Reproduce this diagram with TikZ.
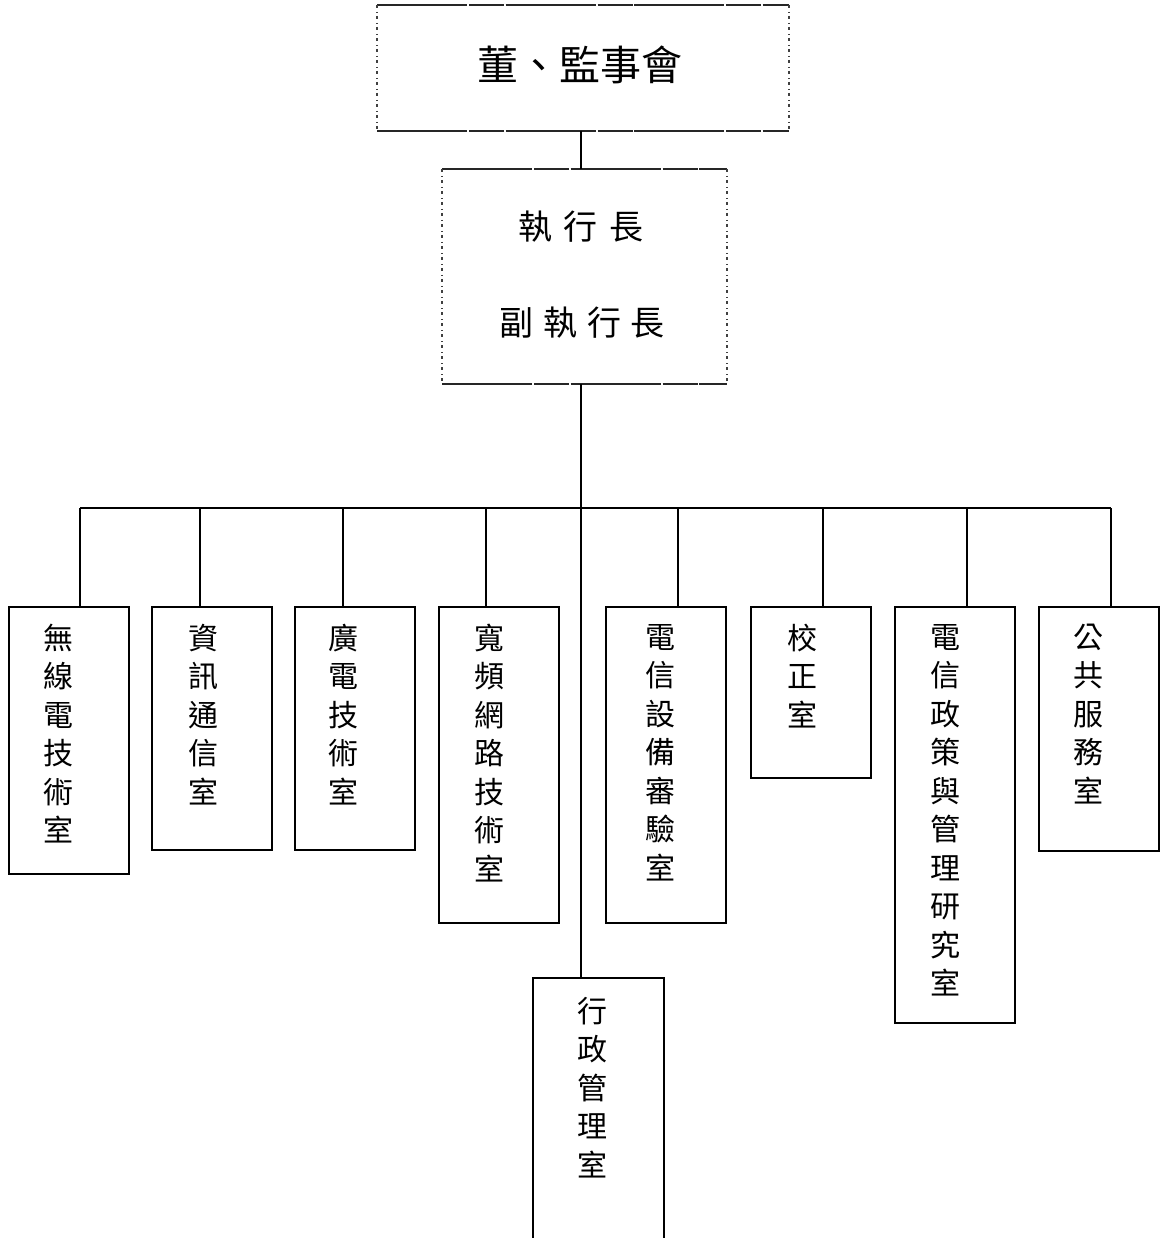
\documentclass[tikz,border=0pt]{standalone}
\usepackage{fontspec}
\newfontfamily\cjk{Noto Sans CJK TC}
\begin{document}
\begin{tikzpicture}[x=1pt,y=-1pt,line width=2pt,
  unitbox/.style={draw, minimum width=120pt, anchor=north west, inner sep=0pt},
  vtext/.style={font=\cjk\fontsize{30}{38.5}\selectfont, align=center, anchor=north, inner sep=0pt},
  conn/.style={line width=1.8pt},
  roughsolid/.style={line width=1.7pt, black!85, dash pattern=on 90pt off 2pt on 35pt off 1.5pt},
  roughdot/.style={line width=1.6pt, black!75, dash pattern=on 3pt off 4pt on 1pt off 3pt}]
\useasboundingbox (0,0) rectangle (1161,1238);

% top boxes
\node[minimum width=410pt, minimum height=124pt, anchor=north west, inner sep=0pt] (board) at (377,5) {};
\draw[roughsolid] (board.north west) -- (board.north east);
\draw[roughsolid] (board.south west) -- (board.south east);
\draw[roughdot] (board.north west) -- (board.south west);
\draw[roughdot] (board.north east) -- (board.south east);
\node[font=\cjk\fontsize{41}{41}\selectfont, inner sep=0pt] (boardt) at (580,65) {董、監事會};

\node[minimum width=283pt, minimum height=213pt, anchor=north west, inner sep=0pt] (exec) at (442,169) {};
\draw[roughsolid] (exec.north west) -- (exec.north east);
\draw[roughsolid] (exec.south west) -- (exec.south east);
\draw[roughdot] (exec.north west) -- (exec.south west);
\draw[roughdot] (exec.north east) -- (exec.south east);
\node[font=\cjk\fontsize{34}{34}\selectfont, inner sep=0pt] (ceo) at (581,227) {執\hspace{12pt}行\hspace{12pt}長};
\node[font=\cjk\fontsize{34}{34}\selectfont, inner sep=0pt] (dceo) at (582,323) {副\hspace{10pt}執\hspace{10pt}行\hspace{10pt}長};

% unit boxes
\node[unitbox, minimum height=267pt] (b1) at (7.5,606) {};
\node[unitbox, minimum height=243pt] (b2) at (151,606) {};
\node[unitbox, minimum height=243pt] (b3) at (294,606) {};
\node[unitbox, minimum height=316pt] (b4) at (437.5,606) {};
\node[unitbox, minimum height=316pt] (b5) at (605,606) {};
\node[unitbox, minimum height=171pt] (b6) at (750,606) {};
\node[unitbox, minimum height=416pt] (b7) at (894,606) {};
\node[unitbox, minimum height=244pt] (b8) at (1038,606) {};
\node[minimum width=129pt, minimum height=262pt, anchor=north west, inner sep=0pt] (admin) at (533,978) {};
\draw (admin.south west) -- (admin.north west) -- (admin.north east) -- (admin.south east);

% texts
\node[vtext] (t1) at (58,623) {無\\線\\電\\技\\術\\室};
\node[vtext] (t2) at (203,623) {資\\訊\\通\\信\\室};
\node[vtext] (t3) at (343,623) {廣\\電\\技\\術\\室};
\node[vtext] (t4) at (489,623) {寬\\頻\\網\\路\\技\\術\\室};
\node[vtext] (t5) at (660,623) {電\\信\\設\\備\\審\\驗\\室};
\node[vtext] (t6) at (802,623) {校\\正\\室};
\node[vtext] (t7) at (945,623) {電\\信\\政\\策\\與\\管\\理\\研\\究\\室};
\node[vtext] (t8) at (1088,623) {公\\共\\服\\務\\室};
\node[vtext] (t9) at (592,996) {行\\政\\管\\理\\室};

% connectors
\coordinate (t) at (581,508);
\coordinate (d1) at (80,508);
\coordinate (d2) at (200,508);
\coordinate (d3) at (343,508);
\coordinate (d4) at (486,508);
\coordinate (d5) at (678,508);
\coordinate (d6) at (823,508);
\coordinate (d7) at (967,508);
\coordinate (d8) at (1111,508);
\draw[conn] (board.south -| t) -- (exec.north -| t);
\draw[conn] (exec.south -| t) -- (admin.north -| t);
\draw[conn] (d1) -- (d8);
\foreach \i in {1,...,8}{\draw[conn] (d\i) -- (d\i |- b\i.north);}
\end{tikzpicture}
\end{document}
